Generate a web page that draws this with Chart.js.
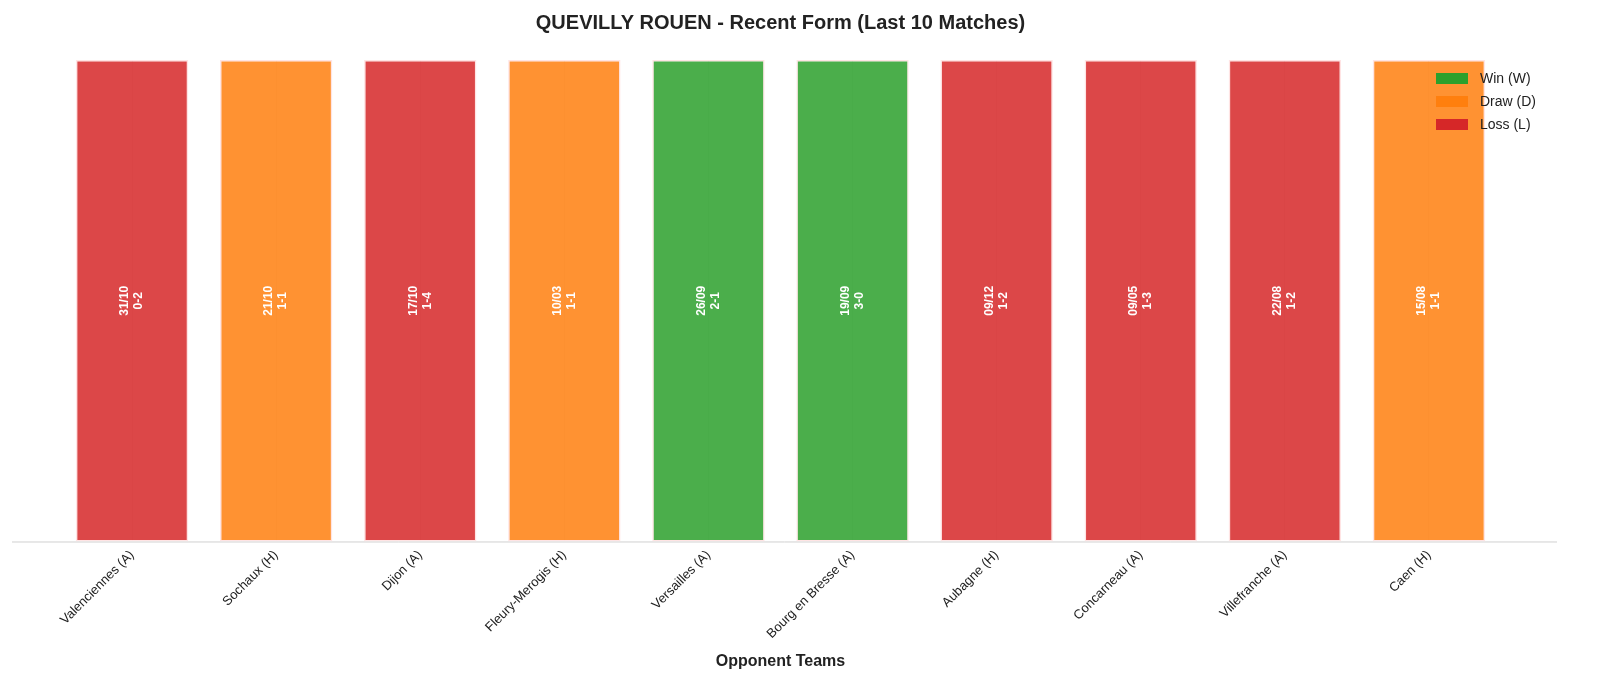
<!DOCTYPE html>
<html><head><meta charset="utf-8">
<script src="https://cdn.jsdelivr.net/npm/chart.js@4"></script>
<style>html,body{margin:0;padding:0;background:#fff;overflow:hidden}#w{width:1600px;height:679px}</style>
</head><body><div id="w"><canvas id="c"></canvas></div>
<script>
const teams = ["Valenciennes (A)","Sochaux (H)","Dijon (A)","Fleury-Merogis (H)","Versailles (A)","Bourg en Bresse (A)","Aubagne (H)","Concarneau (A)","Villefranche (A)","Caen (H)"];
const dates = ["31/10","21/10","17/10","10/03","26/09","19/09","09/12","09/05","22/08","15/08"];
const scores = ["0-2","1-1","1-4","1-1","2-1","3-0","1-2","1-3","1-2","1-1"];
const results = ["L","D","L","D","W","W","L","L","L","D"];
const heights = [1,1,1,1,1,1,1,1,1,1];
const fill = {W:"rgba(44,160,44,0.85)",D:"rgba(255,127,14,0.85)",L:"rgba(214,39,40,0.85)"};
const solid = {W:"#2ca02c",D:"#ff7f0e",L:"#d62728"};
const legendItems = [["W","Win (W)"],["D","Draw (D)"],["L","Loss (L)"]];
const F = "'Liberation Sans', Arial, sans-serif";

const labelPlugin = {id:"lbl",
 beforeDatasetsDraw(ch){
  const ctx=ch.ctx, a=ch.chartArea;
  ctx.save(); ctx.strokeStyle="#d0d0d0"; ctx.lineWidth=1;
  ctx.beginPath(); ctx.moveTo(12,a.bottom+0.5); ctx.lineTo(1557,a.bottom+0.5); ctx.stroke(); ctx.restore();
 },
 afterDatasetsDraw(ch){
  const ctx=ch.ctx; const meta=ch.getDatasetMeta(0);
  ctx.save(); ctx.fillStyle="#fff"; ctx.font="bold 12px "+F; ctx.textAlign="center"; ctx.textBaseline="middle";
  meta.data.forEach((b,i)=>{
    const y=(b.y+b.base)/2;
    ctx.save(); ctx.translate(b.x,y); ctx.rotate(-Math.PI/2);
    ctx.fillText(dates[i],0,-7); ctx.fillText(scores[i],0,7); ctx.restore();
  });
  let x=1436, y=78;
  ctx.font="14px "+F; ctx.textAlign="left";
  legendItems.forEach(([k,t],j)=>{
    ctx.fillStyle=solid[k]; ctx.fillRect(x,y+j*23-5,32,11);
    ctx.fillStyle="#222"; ctx.fillText(t,x+44,y+j*23+1);
  });
  ctx.restore();
}};

new Chart(document.getElementById("c"),{
  type:"bar",
  data:{labels:teams,datasets:[{data:heights,backgroundColor:results.map(r=>fill[r]),borderColor:"rgba(255,225,225,0.9)",borderWidth:1.5,borderSkipped:false,categoryPercentage:0.78,barPercentage:1}]},
  options:{responsive:true,maintainAspectRatio:false,animation:false,
    layout:{padding:{left:60,right:99,top:3,bottom:4}},
    plugins:{legend:{display:false},tooltip:{enabled:false},
      title:{display:true,text:"QUEVILLY ROUEN - Recent Form (Last 10 Matches)",color:"#222",font:{family:F,size:20,weight:"bold"},padding:{top:8,bottom:25}}},
    scales:{
      x:{grid:{display:true,offset:false,color:"rgba(0,0,0,0.07)",drawTicks:false},border:{display:false},
        ticks:{color:"#222",font:{family:F,size:13},minRotation:45,maxRotation:45,padding:6},
        title:{display:true,text:"Opponent Teams",color:"#222",font:{family:F,size:16,weight:"bold"},padding:{top:4}}},
      y:{display:false,min:0,max:1}
    }},
  plugins:[labelPlugin]
});
</script></body></html>
